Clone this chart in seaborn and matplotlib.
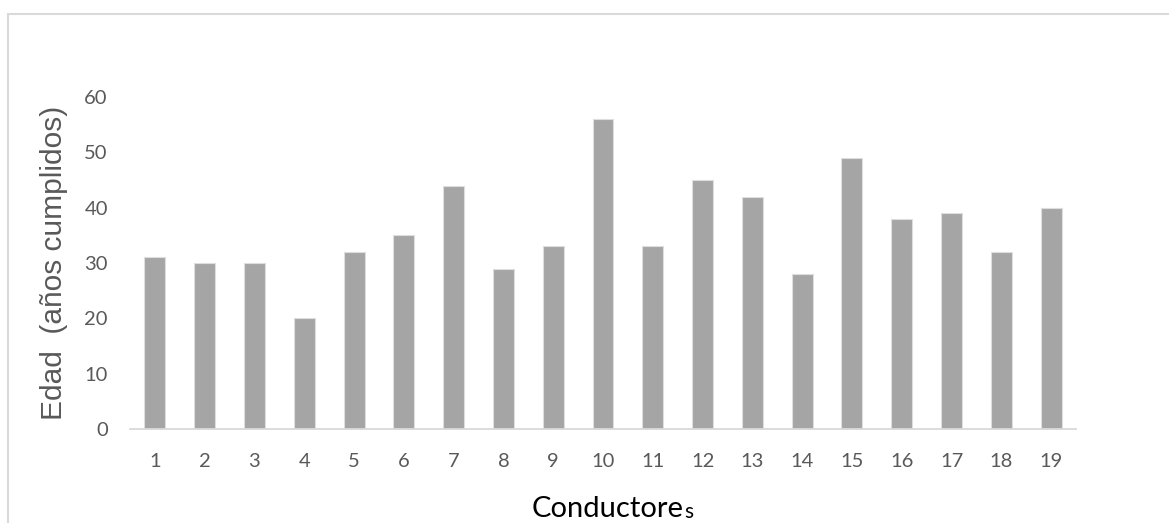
import matplotlib
matplotlib.use("Agg")
import matplotlib.pyplot as plt
from matplotlib.lines import Line2D
import seaborn as sns
import pandas as pd

# Driver ages (completed years)
conductores = [str(i) for i in range(1, 20)]
edades = [31, 30, 30, 20, 32, 35, 44, 29, 33, 56, 33, 45, 42, 28, 49, 38, 39, 32, 40]
y_ticks = [0, 10, 20, 30, 40, 50, 60]

df = pd.DataFrame({"Conductor": conductores, "Edad": edades})

sns.set_theme(style="white")
plt.rcParams["font.family"] = ["Lato", "DejaVu Sans"]

W, H = 1169, 523
fig = plt.figure(figsize=(W / 100, H / 100), dpi=100)
ax = fig.add_axes([130 / W, (H - 429) / H, (1076 - 130) / W, (429 - 97) / H])

sns.barplot(data=df, x="Conductor", y="Edad", order=conductores, color="#a5a5a5",
            saturation=1, width=0.42, edgecolor="#dedede", linewidth=0.8, ax=ax)

ax.set_xlim(-0.5, len(conductores) - 0.5)
ax.set_ylim(0, 60)
ax.set_yticks(y_ticks)
ax.set_yticklabels([str(t) for t in y_ticks])

for side in ("top", "right", "left"):
    ax.spines[side].set_visible(False)
ax.spines["bottom"].set_color("#d9d9d9")
ax.spines["bottom"].set_linewidth(1.3)

ax.tick_params(axis="both", length=0, labelsize=14.5, colors="#595959")
ax.tick_params(axis="y", pad=16)
ax.tick_params(axis="x", pad=17)

ax.set_xlabel("")
ax.set_ylabel("Edad  (años cumplidos)", fontsize=21.5, color="#595959",
              family=["Liberation Sans", "DejaVu Sans"], labelpad=12)

# x-axis title with a smaller trailing letter
base_y = (H - 517) / H
t = fig.text(532 / W, base_y, "Conductore", fontsize=21, color="#000000",
             ha="left", va="baseline")
renderer = fig.canvas.get_renderer()
x_end = t.get_window_extent(renderer).x1 / W
fig.text(x_end + 0.5 / W, base_y - 1.5 / H, "s", fontsize=15, color="#000000",
         ha="left", va="baseline")

# light chart-area border
border = "#d9d9d9"
fig.add_artist(Line2D([8 / W, 1.0], [(H - 13.5) / H] * 2, transform=fig.transFigure,
                      color=border, linewidth=1.5))
fig.add_artist(Line2D([8 / W] * 2, [0, (H - 13.5) / H], transform=fig.transFigure,
                      color=border, linewidth=1.5))

fig.savefig("out.png", dpi=100, facecolor="white")
